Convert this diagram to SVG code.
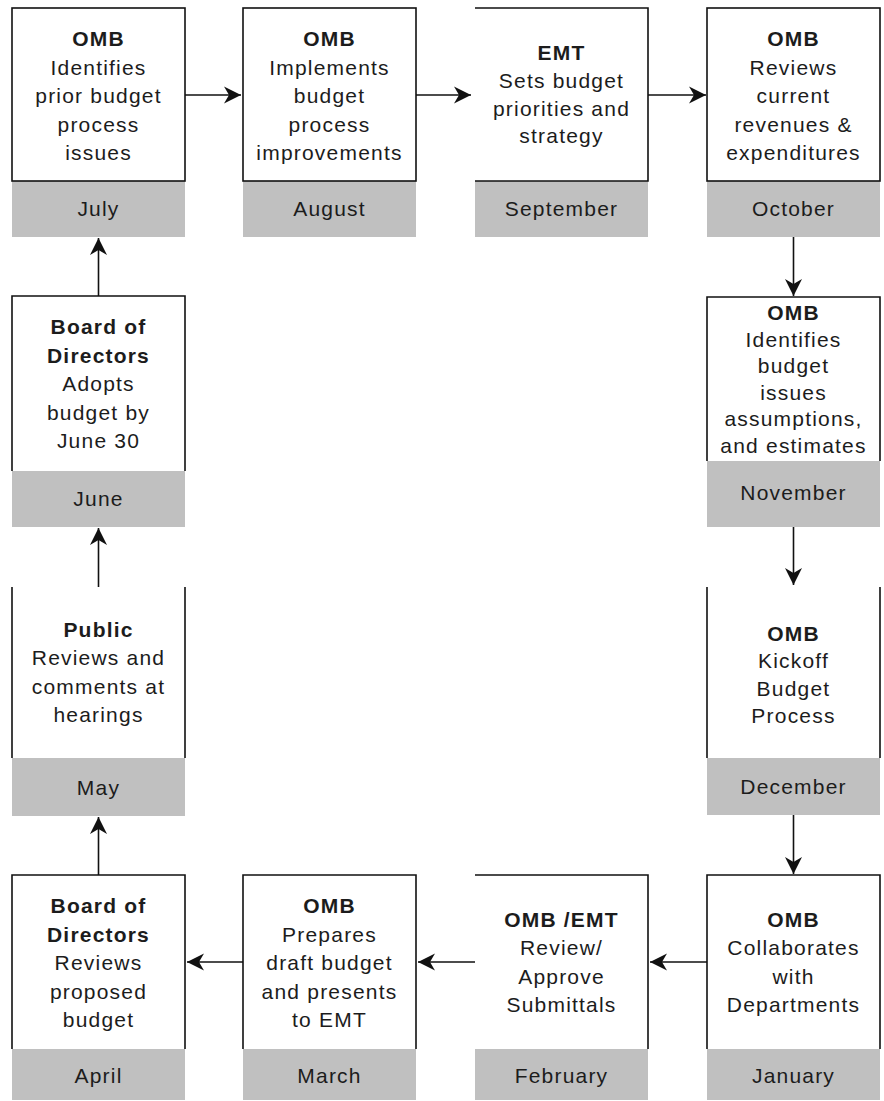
<svg xmlns="http://www.w3.org/2000/svg" width="884" height="1101" viewBox="0 0 884 1101">
<style>
.bg{fill:#ffffff}
.gray{fill:#c0c0c0}
.bd{fill:none;stroke:#111;stroke-width:1.6}
text{font-family:"Liberation Sans",Arial,sans-serif;font-size:21px;fill:#1c1c1c;text-anchor:middle;letter-spacing:1.2px}
.b{font-weight:bold}
.cn{fill:none;stroke:#111;stroke-width:1.6;marker-end:url(#ah)}
</style>
<defs>
<marker id="ah" markerUnits="userSpaceOnUse" markerWidth="20" markerHeight="20" refX="17" refY="10" orient="auto" viewBox="0 0 20 20">
<path d="M0,1.5 L17,10 L0,18.5 L5,10 z" fill="#111"/>
</marker>
</defs>
<rect class="bg" width="884" height="1101"/>

<g id="july">
<rect class="gray" x="12" y="181" width="173" height="56"/>
<rect class="bd" x="12" y="8" width="173" height="173"/>
<text x="98.5" y="46" class="b">OMB</text>
<text x="98.5" y="74.5">Identifies</text>
<text x="98.5" y="103">prior budget</text>
<text x="98.5" y="131.5">process</text>
<text x="98.5" y="160">issues</text>
<text x="98.5" y="216">July</text>
</g>

<g id="august">
<rect class="gray" x="243" y="181" width="173" height="56"/>
<rect class="bd" x="243" y="8" width="173" height="173"/>
<text x="329.5" y="46" class="b">OMB</text>
<text x="329.5" y="74.5">Implements</text>
<text x="329.5" y="103">budget</text>
<text x="329.5" y="131.5">process</text>
<text x="329.5" y="160">improvements</text>
<text x="329.5" y="216">August</text>
</g>

<g id="september">
<rect class="gray" x="475" y="181" width="173" height="56"/>
<path class="bd" d="M475,8 H648 V181 H475"/>
<text x="561.5" y="60" class="b">EMT</text>
<text x="561.5" y="88">Sets budget</text>
<text x="561.5" y="115.5">priorities and</text>
<text x="561.5" y="143">strategy</text>
<text x="561.5" y="216">September</text>
</g>

<g id="october">
<rect class="gray" x="707" y="181" width="173" height="56"/>
<rect class="bd" x="707" y="8" width="173" height="173"/>
<text x="793.5" y="46" class="b">OMB</text>
<text x="793.5" y="74.5">Reviews</text>
<text x="793.5" y="103">current</text>
<text x="793.5" y="131.5">revenues &amp;</text>
<text x="793.5" y="160">expenditures</text>
<text x="793.5" y="216">October</text>
</g>

<g id="november">
<rect class="gray" x="707" y="461" width="173" height="66"/>
<path class="bd" d="M707,461 V297 H880 V461"/>
<text x="793.5" y="320" class="b">OMB</text>
<text x="793.5" y="346.5">Identifies</text>
<text x="793.5" y="373">budget</text>
<text x="793.5" y="399.5">issues</text>
<text x="793.5" y="426">assumptions,</text>
<text x="793.5" y="452.5">and estimates</text>
<text x="793.5" y="500">November</text>
</g>

<g id="december">
<rect class="gray" x="707" y="758" width="173" height="57"/>
<path class="bd" d="M707,758 V587 M880,587 V758"/>
<text x="793.5" y="641" class="b">OMB</text>
<text x="793.5" y="668">Kickoff</text>
<text x="793.5" y="695.5">Budget</text>
<text x="793.5" y="723">Process</text>
<text x="793.5" y="794">December</text>
</g>

<g id="january">
<rect class="gray" x="707" y="1049" width="173" height="51"/>
<path class="bd" d="M707,1049 V875 H880 V1049"/>
<text x="793.5" y="927" class="b">OMB</text>
<text x="793.5" y="955">Collaborates</text>
<text x="793.5" y="983.5">with</text>
<text x="793.5" y="1012">Departments</text>
<text x="793.5" y="1083">January</text>
</g>

<g id="february">
<rect class="gray" x="475" y="1049" width="173" height="51"/>
<path class="bd" d="M475,875 H648 V1049"/>
<text x="561.5" y="927" class="b">OMB /EMT</text>
<text x="561.5" y="955">Review/</text>
<text x="561.5" y="983.5">Approve</text>
<text x="561.5" y="1012">Submittals</text>
<text x="561.5" y="1083">February</text>
</g>

<g id="march">
<rect class="gray" x="243" y="1049" width="173" height="51"/>
<path class="bd" d="M243,1049 V875 H416 V1049"/>
<text x="329.5" y="913" class="b">OMB</text>
<text x="329.5" y="941.5">Prepares</text>
<text x="329.5" y="970">draft budget</text>
<text x="329.5" y="998.5">and presents</text>
<text x="329.5" y="1027">to EMT</text>
<text x="329.5" y="1083">March</text>
</g>

<g id="april">
<rect class="gray" x="12" y="1049" width="173" height="51"/>
<path class="bd" d="M12,1049 V875 H185 V1049"/>
<text x="98.5" y="913" class="b">Board of</text>
<text x="98.5" y="941.5" class="b">Directors</text>
<text x="98.5" y="970">Reviews</text>
<text x="98.5" y="998.5">proposed</text>
<text x="98.5" y="1027">budget</text>
<text x="98.5" y="1083">April</text>
</g>

<g id="may">
<rect class="gray" x="12" y="758" width="173" height="58"/>
<path class="bd" d="M12,758 V587 M185,587 V758"/>
<text x="98.5" y="637" class="b">Public</text>
<text x="98.5" y="665">Reviews and</text>
<text x="98.5" y="693.5">comments at</text>
<text x="98.5" y="722">hearings</text>
<text x="98.5" y="795">May</text>
</g>

<g id="june">
<rect class="gray" x="12" y="471" width="173" height="56"/>
<path class="bd" d="M12,471 V296 H185 V471"/>
<text x="98.5" y="334" class="b">Board of</text>
<text x="98.5" y="362.5" class="b">Directors</text>
<text x="98.5" y="391">Adopts</text>
<text x="98.5" y="419.5">budget by</text>
<text x="98.5" y="448">June 30</text>
<text x="98.5" y="506">June</text>
</g>

<g id="connectors">
<path class="cn" d="M185,95 H241"/>
<path class="cn" d="M416,95 H471"/>
<path class="cn" d="M648,95 H706"/>
<path class="cn" d="M793.5,237 V296"/>
<path class="cn" d="M793.5,527 V585"/>
<path class="cn" d="M793.5,815 V874"/>
<path class="cn" d="M707,962 H650"/>
<path class="cn" d="M475,962 H418"/>
<path class="cn" d="M243,962 H187"/>
<path class="cn" d="M98.5,875 V817"/>
<path class="cn" d="M98.5,587 V528"/>
<path class="cn" d="M98.5,296 V238"/>
</g>
</svg>
